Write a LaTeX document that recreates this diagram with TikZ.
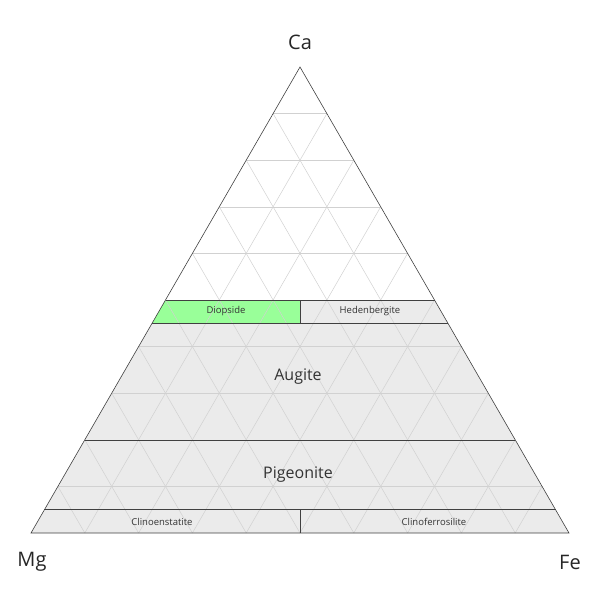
\documentclass[tikz,border=0pt]{standalone}
\usepackage{fontspec}
\setmainfont{Open Sans}
\usetikzlibrary{calc}
\begin{document}
\begin{tikzpicture}[x=1pt,y=-1pt,
  grid/.style={draw=black!18,line width=0.5pt},
  bound/.style={draw=black!75,line width=0.6pt},
  region/.style={fill=black!8},
  big/.style={font=\fontsize{20}{22}\selectfont,text=black!85},
  mid/.style={font=\fontsize{16}{18}\selectfont,text=black!80},
  small/.style={font=\fontsize{9.5}{11}\selectfont,text=black!80}]
\useasboundingbox (0,0) rectangle (600,600);
\coordinate (Ca) at (300,67);
\coordinate (Mg) at (31,533);
\coordinate (Fe) at (569,533);
% regions
\fill[region] (44.45,509.7) -- (555.55,509.7) -- (569,533) -- (31,533) -- cycle;
\fill[region] (84.8,439.8) -- (515.2,439.8) -- (555.55,509.7) -- (44.45,509.7) -- cycle;
\fill[region] (152.05,323.3) -- (447.95,323.3) -- (515.2,439.8) -- (84.8,439.8) -- cycle;
\fill[region] (300,300) -- (434.5,300) -- (447.95,323.3) -- (300,323.3) -- cycle;
\fill[green!40] (165.5,300) -- (300,300) -- (300,323.3) -- (152.05,323.3) -- cycle;
% grid
\foreach \i in {1,...,9}{
  \draw[grid] ($(Mg)!\i/10!(Ca)$) -- ($(Fe)!\i/10!(Ca)$);
  \draw[grid] ($(Mg)!\i/10!(Fe)$) -- ($(Ca)!\i/10!(Fe)$);
  \draw[grid] ($(Fe)!\i/10!(Mg)$) -- ($(Ca)!\i/10!(Mg)$);
}
% boundaries
\draw[bound] (165.5,300) -- (434.5,300);
\draw[bound] (152.05,323.3) -- (447.95,323.3);
\draw[bound] (300,300) -- (300,323.3);
\draw[bound] (84.8,439.8) -- (515.2,439.8);
\draw[bound] (44.45,509.7) -- (555.55,509.7);
\draw[bound] (300,509.7) -- (300,533);
\draw[bound] (Ca) -- (Mg) -- (Fe) -- cycle;
% labels
\node[big] (lca) at (300,42) {Ca};
\node[big] (lmg) at (32,562) {Mg};
\node[big] (lfe) at (570,562) {Fe};
\node[small] (di) at (226,311.5) {Diopside};
\node[small] (he) at (370,311.5) {Hedenbergite};
\node[mid] (au) at (298,377) {Augite};
\node[mid] (pi) at (298,475) {Pigeonite};
\node[small] (ce) at (162,521.5) {Clinoenstatite};
\node[small] (cf) at (434,521.5) {Clinoferrosilite};
\end{tikzpicture}
\end{document}
